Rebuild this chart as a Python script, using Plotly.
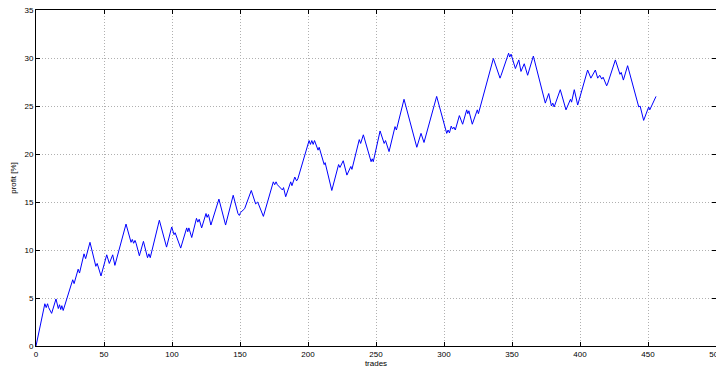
import plotly.graph_objects as go

trades = [0, 6.5, 7.5, 8.5, 9.3, 11.5, 14.7, 16.4, 17.3, 18.2, 19.0, 20.0, 27.0, 28.0, 31.0, 32.0,
          35.3, 36.5, 39.7, 44.0, 45.0, 47.8, 52.0, 53.9, 56.4, 58.0, 66.2, 69.9, 70.8, 71.8, 72.8,
          73.6, 76.0, 79.0, 82.0, 83.0, 84.0, 90.7, 96.0, 99.8, 101.5, 102.3, 106.4, 110.8, 111.6,
          112.4, 114.5, 118.0, 119.0, 120.0, 121.8, 125.0, 125.8, 126.8, 128.6, 134.5, 139.4, 145.0,
          148.5, 149.5, 150.4, 153.4, 158.3, 161.5, 163.0, 167.2, 174.5, 175.5, 176.5, 177.5, 181.2,
          182.0, 183.6, 187.3, 188.2, 190.3, 191.6, 192.5, 200.8, 201.8, 202.8, 203.8, 204.8, 207.4,
          208.2, 211.9, 212.6, 217.5, 222.5, 223.5, 225.9, 228.6, 231.5, 232.3, 237.7, 238.7, 240.7,
          246.4, 247.2, 248.0, 253.0, 256.0, 257.0, 259.6, 264.0, 265.0, 270.6, 280.0, 283.1, 285.3,
          294.6, 302.0, 303.0, 304.0, 305.3, 306.3, 307.3, 308.3, 311.3, 313.7, 316.7, 317.5, 318.3,
          320.8, 324.5, 325.3, 336.3, 341.2, 342.0, 347.5, 348.3, 349.3, 352.5, 355.0, 356.6, 359.0,
          361.5, 365.7, 374.5, 377.0, 379.0, 380.0, 381.0, 385.5, 389.7, 393.0, 393.8, 395.8, 398.3,
          405.6, 408.0, 411.3, 413.0, 414.5, 416.0, 417.0, 419.6, 420.5, 426.0, 427.0, 429.4, 430.3,
          431.9, 435.0, 443.2, 444.2, 446.8, 450.5, 451.3, 455.9]

profit = [0, 4.4, 4.0, 4.4, 4.0, 3.4, 4.9, 3.9, 4.3, 3.8, 4.2, 3.7, 6.9, 6.5, 8.0, 7.6,
          9.6, 9.1, 10.8, 8.3, 8.6, 7.3, 9.5, 8.6, 9.5, 8.4, 12.7, 10.8, 11.1, 10.7, 11.0,
          10.7, 9.4, 10.9, 9.2, 9.6, 9.2, 13.1, 10.3, 12.4, 11.6, 11.8, 10.2, 12.3, 11.9,
          12.3, 11.3, 13.3, 12.9, 13.2, 12.3, 13.8, 13.4, 13.7, 12.6, 15.3, 12.6, 15.7,
          13.8, 13.6, 13.9, 14.3, 16.2, 14.8, 15.0, 13.5, 17.1, 16.8, 17.1, 16.8, 16.25,
          16.5, 15.55, 17.1, 16.7, 17.6, 17.2, 17.4, 21.4, 21.0, 21.4, 21.0, 21.4, 20.4,
          20.7, 18.9, 19.1, 16.2, 18.9, 18.6, 19.3, 17.8, 18.7, 18.4, 21.5, 21.1, 22.0,
          19.2, 19.5, 19.2, 22.4, 21.1, 21.4, 20.25, 22.85, 22.5, 25.7, 20.7, 22.15, 21.2,
          26.0, 22.15, 22.5, 22.2, 22.9, 22.6, 22.8, 22.5, 24.0, 23.1, 24.6, 24.2, 24.5,
          23.1, 24.6, 24.2, 29.95, 27.9, 28.2, 30.5, 30.1, 30.4, 28.9, 29.8, 28.6, 29.4,
          28.2, 30.2, 25.3, 26.3, 25.0, 25.3, 24.9, 26.7, 24.6, 25.7, 25.4, 26.7, 25.1,
          28.75, 27.9, 28.75, 27.9, 28.2, 27.8, 28.0, 27.1, 27.4, 29.8, 29.4, 28.3, 28.5,
          27.7, 29.2, 24.9, 25.0, 23.5, 24.9, 24.6, 26.0]

x_ticks = [0, 50, 100, 150, 200, 250, 300, 350, 400, 450, 500]
y_ticks = [0, 5, 10, 15, 20, 25, 30, 35]

FONT = dict(family="Liberation Sans, Arial", size=8, color="black")

fig = go.Figure()
fig.add_trace(go.Scatter(x=trades, y=profit, mode="lines",
                         line=dict(color="#0000ff", width=1), showlegend=False))

axis_common = dict(
    showline=True, linecolor="black", linewidth=1, mirror="ticks",
    ticks="inside", ticklen=4, tickcolor="black",
    showgrid=True, gridcolor="#b0b0b0", griddash="1px,2px", gridwidth=1,
    zeroline=False, tickfont=FONT, automargin=False, ticklabeloverflow="allow",
)

fig.update_xaxes(range=[0, 500], tickvals=x_ticks, ticklabelstandoff=0,
                 title=dict(text="trades", font=FONT, standoff=0),
                 **axis_common)
fig.update_yaxes(range=[0, 35], tickvals=y_ticks,
                 title=dict(text="profit [%]", font=FONT, standoff=6),
                 **axis_common)

fig.update_layout(
    width=716, height=370,
    margin=dict(l=36, r=0, t=10, b=24),
    plot_bgcolor="white", paper_bgcolor="white",
)

fig.write_html(
    "out.html",
    config={"displayModeBar": False},
    post_script="document.body.style.margin='0';document.body.style.overflow='hidden';",
)
